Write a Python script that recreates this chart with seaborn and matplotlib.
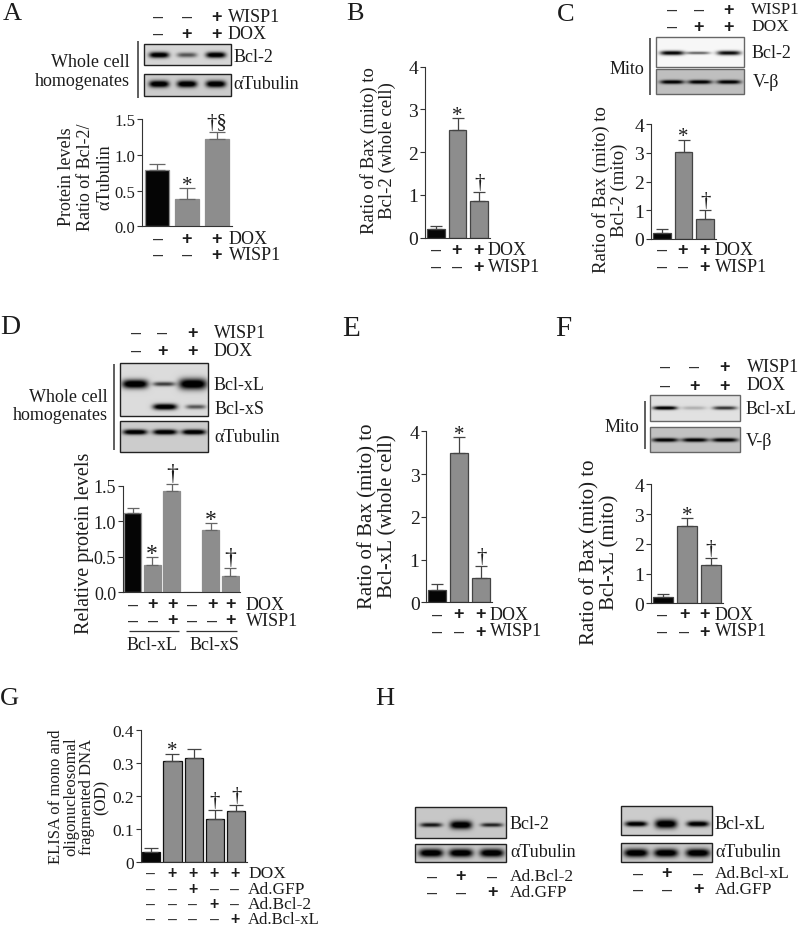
# plot.py

import numpy as np
import pandas as pd
import seaborn as sns
import matplotlib
matplotlib.use("Agg")
import matplotlib.pyplot as plt
from matplotlib.patches import Rectangle


# =========================
# DATOS
# =========================
A_VALORES = [0.79, 0.38, 1.22]
A_ERRORES = [0.87, 0.53, 1.32]
A_MARCAS = ["", "*", "†§"]
A_TICKS = ["0.0", "0.5", "1.0", "1.5"]

B_VALORES = [0.20, 2.53, 0.85]
B_ERRORES = [0.28, 2.81, 1.08]
C_VALORES = [0.20, 3.02, 0.70]
C_ERRORES = [0.35, 3.46, 1.00]
E_VALORES = [0.28, 3.49, 0.58]
E_ERRORES = [0.42, 3.86, 0.85]
F_VALORES = [0.20, 2.61, 1.29]
F_ERRORES = [0.30, 2.86, 1.51]
RATIO_MARCAS = ["", "*", "†"]
RATIO_TICKS = ["0", "1", "2", "3", "4"]

D_VALORES = [1.11, 0.38, 1.43, 0.0, 0.87, 0.23]
D_ERRORES = [1.19, 0.49, 1.53, 0.0, 0.97, 0.34]
D_MARCAS = ["", "*", "†", "", "*", "†"]
D_TICKS = ["0.0", "0.5", "1.0", "1.5"]

G_VALORES = [0.03, 0.305, 0.313, 0.13, 0.155]
G_ERRORES = [0.042, 0.328, 0.342, 0.157, 0.172]
G_MARCAS = ["", "*", "", "†", "†"]
G_TICKS = ["0", "0.1", "0.2", "0.3", "0.4"]

# Intensidad de las bandas de cada blot
BANDAS_A_BCL2 = [0.95, 0.50, 0.95]
BANDAS_C_BCL2 = [0.85, 0.50, 0.80]
BANDAS_F_BCLXL = [0.95, 0.18, 0.65]
BANDAS_VBETA = [0.90, 0.90, 0.90]
BANDAS_D_BCLXL = [1.0, 0.60, 1.0]
BANDAS_D_BCLXS = [0.0, 1.0, 0.50]
BANDAS_H_BCL2 = [0.75, 1.0, 0.70]
BANDAS_H_BCLXL = [0.95, 1.0, 0.95]
BANDAS_TUBULINA = [1.0, 1.0, 1.0]

# =========================
# CONSTANTES
# =========================
W, H = 800, 929
NEGRO = "#050505"
GRIS = "#8d8d8d"
TEXTO = "#1c1c1c"
SERIF = "Liberation Serif"


# =========================
# FUNCIONES
# =========================

def panel_barras(fig, caja, valores, errores, marcas, ticks, ymax, ancho=0.8,
                 borde="#8d8d8d", fs_tick=13, fs_marca=15, color_error="#444444", cap=4.5):
    """
    Dibuja un panel de barras con seaborn. caja = (izq, arriba, der, abajo) en pixeles.
    """
    izq, arriba, der, abajo = caja
    ax = fig.add_axes([izq / W, 1 - abajo / H, (der - izq) / W, (abajo - arriba) / H])
    ax.patch.set_alpha(0)

    df = pd.DataFrame({"grupo": [str(i) for i in range(len(valores))], "valor": valores})
    colores = [NEGRO] + [GRIS] * (len(valores) - 1)
    sns.barplot(data=df, x="grupo", y="valor", hue="grupo", palette=colores, legend=False,
                width=ancho, edgecolor=borde, linewidth=0.9, saturation=1, ax=ax)

    # Solo la mitad superior de la barra de error
    sup = np.array(errores) - np.array(valores)
    visibles = [i for i, v in enumerate(valores) if v > 0]
    ax.errorbar(visibles, [valores[i] for i in visibles],
                yerr=[np.zeros(len(visibles)), sup[visibles]], fmt="none",
                ecolor=color_error, elinewidth=0.9, capsize=cap, capthick=0.9,
                clip_on=False, zorder=1)

    ax.set_xlim(-0.5, len(valores) - 0.5)
    ax.set_ylim(0, ymax)
    ax.set_yticks(np.linspace(0, ymax, len(ticks)))
    ax.set_yticklabels(ticks, fontsize=fs_tick, color=TEXTO, family=SERIF)
    ax.set_xticks([])
    ax.set_xlabel("")
    ax.set_ylabel("")
    ax.tick_params(axis="y", length=3.5, width=0.8, pad=1.5, color="#333333")
    sns.despine(ax=ax)
    for lado in ["left", "bottom"]:
        ax.spines[lado].set_linewidth(0.8)
        ax.spines[lado].set_color("#333333")

    for i, marca in enumerate(marcas):
        if marca:
            # el asterisco de la fuente queda alto, hay que bajarlo
            dy = -5 if marca == "*" else 0
            ax.annotate(marca, (i, errores[i]), xytext=(0, dy), textcoords="offset points",
                        ha="center", va="bottom", fontsize=fs_marca, family=SERIF,
                        color=TEXTO, annotation_clip=False)
    return ax


def blot(ov, caja, fondo, filas, borde="#222222"):
    """
    Pinta un western blot sintetico. Cada fila es (xs, y, intensidades, medios, sigmas).
    """
    x0, y0, x1, y1 = caja
    X, Y = np.meshgrid(np.linspace(x0, x1, (x1 - x0) * 2), np.linspace(y0, y1, (y1 - y0) * 2))
    oscuro = np.zeros_like(X)
    for xs, yb, bandas, medios, sigmas in filas:
        for xc, intensidad, medio, sigma in zip(xs, bandas, medios, sigmas):
            perfil = np.exp(-((X - xc) / medio) ** 4) * np.exp(-((Y - yb) / sigma) ** 2)
            oscuro += intensidad * 1.25 * perfil
    img = fondo * (1 - np.clip(oscuro, 0, 1))
    ov.imshow(img, cmap="gray", vmin=0, vmax=1, extent=(x0, x1, y1, y0), aspect="auto",
              interpolation="bilinear", zorder=2)
    ov.add_patch(Rectangle((x0, y0), x1 - x0, y1 - y0, fill=False, ec=borde, lw=1.0, zorder=3))


def signos(ov, xs, y, fila, etiqueta=None, x_etiqueta=None, fs=13, fs_et=13):
    """
    Fila de + y - con su etiqueta a la derecha.
    """
    for x, s in zip(xs, fila):
        if s == "+":
            ov.text(x, y, "+", ha="center", va="center", fontsize=fs, fontweight="bold",
                    family="Liberation Sans", color=TEXTO)
        else:
            ov.text(x, y, "–", ha="center", va="center", fontsize=fs,
                    family="Liberation Sans", color="#333333")
    if etiqueta:
        texto(ov, x_etiqueta, y, etiqueta, fs=fs_et)


def texto(ov, x, y, s, fs=13, ha="left", rot=0, ls=1.0):
    ov.text(x, y, s, ha=ha, va="center", fontsize=fs, family=SERIF, color=TEXTO,
            rotation=rot, linespacing=ls, rotation_mode="default")


def linea(ov, x0, y0, x1, y1, lw=1.1, color="#333333"):
    ov.plot([x0, x1], [y0, y1], color=color, lw=lw, solid_capstyle="butt", zorder=3)


def main():
    sns.set_theme(style="ticks")
    plt.rcParams["font.family"] = [SERIF, "DejaVu Serif"]

    fig = plt.figure(figsize=(W / 100, H / 100), dpi=100, facecolor="white")

    # Capa en pixeles para textos y blots
    ov = fig.add_axes([0, 0, 1, 1])
    ov.axis("off")

    # ----- Panel A -----
    panel_barras(fig, (142, 120, 232, 227.3), A_VALORES, A_ERRORES, A_MARCAS, A_TICKS, 1.5,
                 ancho=0.8, cap=6, color_error="#666666", fs_tick=12)
    signos(ov, [158, 187, 216], 17, "--+", "WISP1", 228)
    signos(ov, [158, 187, 216], 34, "-++", "DOX", 228)
    xs_a = [159, 187, 216]
    blot(ov, (144, 45, 231, 66), 0.84, [(xs_a, 56, BANDAS_A_BCL2, [10] * 3, [3.0, 2.5, 3.0])])
    blot(ov, (144, 75, 231, 97), 0.80, [(xs_a, 85, BANDAS_TUBULINA, [10] * 3, [3.5] * 3)])
    linea(ov, 137.5, 42, 137.5, 99)
    texto(ov, 130, 62, "Whole cell", ha="right")
    texto(ov, 130, 81, "homogenates", ha="right")
    texto(ov, 234, 57, "Bcl-2")
    texto(ov, 233, 84, "αTubulin")
    signos(ov, [158, 187, 216], 239, "-++", "DOX", 229)
    signos(ov, [158, 187, 216], 255, "--+", "WISP1", 229)
    texto(ov, 86, 177, "Protein levels\nRatio of Bcl-2/\nαTubulin", fs=13, ha="center", rot=90, ls=1.17)

    # ----- Panel B -----
    panel_barras(fig, (425, 67.7, 490, 238.7), B_VALORES, B_ERRORES, RATIO_MARCAS, RATIO_TICKS, 4,
                 ancho=0.83, borde="#444444", fs_tick=14)
    signos(ov, [436, 457, 479], 250, "-++", "DOX", 488)
    signos(ov, [436, 457, 479], 267, "--+", "WISP1", 488)
    texto(ov, 378, 151, "Ratio of Bax (mito) to\nBcl-2 (whole cell)", fs=13.5, ha="center", rot=90, ls=1.05)

    # ----- Panel C -----
    panel_barras(fig, (651, 125, 716, 240), C_VALORES, C_ERRORES, RATIO_MARCAS, RATIO_TICKS, 4,
                 ancho=0.83, borde="#444444", fs_tick=14)
    signos(ov, [672, 699, 728], 10, "--+", "WISP1", 751, fs_et=12.2)
    signos(ov, [672, 699, 728], 27, "-++", "DOX", 751, fs_et=12.5)
    blot(ov, (656, 38, 744, 68), 0.97, [([672, 698, 729], 54, BANDAS_C_BCL2, [12] * 3, [2.2, 1.4, 2.2])],
         borde="#666666")
    blot(ov, (656, 70, 744, 95), 0.75, [([672, 700, 729], 83, BANDAS_VBETA, [12] * 3, [2.0] * 3)],
         borde="#666666")
    linea(ov, 650, 39, 650, 96)
    texto(ov, 644, 69, "Mito", ha="right")
    texto(ov, 752, 53, "Bcl-2")
    texto(ov, 753, 82, "V-β")
    signos(ov, [662, 683, 705], 250, "-++", "DOX", 715)
    signos(ov, [662, 683, 705], 267, "--+", "WISP1", 715)
    texto(ov, 610, 190, "Ratio of Bax (mito) to\nBcl-2 (mito)", fs=13.5, ha="center", rot=90, ls=1.05)

    # ----- Panel D -----
    panel_barras(fig, (123, 486.7, 240, 593.3), D_VALORES, D_ERRORES, D_MARCAS, D_TICKS, 1.5,
                 ancho=0.85, fs_marca=17, color_error="#666666")
    signos(ov, [136, 162, 192], 333, "--+", "WISP1", 214)
    signos(ov, [136, 162, 192], 351, "-++", "DOX", 214)
    blot(ov, (120, 364, 208, 417), 0.86, [
        ([135, 164, 193], 385, BANDAS_D_BCLXL, [13, 11, 14], [4.5, 2.2, 5.5]),
        ([135, 165, 196], 408, BANDAS_D_BCLXS, [10, 12, 10], [2.0, 3.0, 2.2]),
    ])
    blot(ov, (120, 422, 208, 453), 0.80, [([135, 165, 194], 433, BANDAS_TUBULINA, [12, 12, 12], [2.6] * 3)])
    linea(ov, 114, 365, 114, 451)
    texto(ov, 108, 397, "Whole cell", ha="right")
    texto(ov, 108, 416, "homogenates", ha="right")
    texto(ov, 214, 385, "Bcl-xL")
    texto(ov, 215, 409, "Bcl-xS")
    texto(ov, 214, 437, "αTubulin")
    xs_d = [133, 153, 173, 192, 212, 231]
    signos(ov, xs_d, 605, "-++-++", "DOX", 246)
    signos(ov, xs_d, 621, "--+--+", "WISP1", 246)
    linea(ov, 129, 632, 179, 632, lw=0.9)
    linea(ov, 186, 632, 237, 632, lw=0.9)
    texto(ov, 152, 645, "Bcl-xL", ha="center")
    texto(ov, 215, 645, "Bcl-xS", ha="center")
    texto(ov, 84, 543, "Relative protein levels", fs=14.5, ha="center", rot=90)

    # ----- Panel E -----
    panel_barras(fig, (426.5, 432.3, 492, 603.3), E_VALORES, E_ERRORES, RATIO_MARCAS, RATIO_TICKS, 4,
                 ancho=0.83, borde="#444444", fs_tick=14)
    signos(ov, [437, 459, 481], 615, "-++", "DOX", 490)
    signos(ov, [437, 459, 481], 632, "--+", "WISP1", 490)
    texto(ov, 378, 516, "Ratio of Bax (mito) to\nBcl-xL (whole cell)", fs=15, ha="center", rot=90, ls=1.05)

    # ----- Panel F -----
    panel_barras(fig, (651, 485.3, 723, 604.3), F_VALORES, F_ERRORES, RATIO_MARCAS, RATIO_TICKS, 4,
                 ancho=0.83, borde="#444444", fs_tick=14)
    signos(ov, [665, 694, 724], 367, "--+", "WISP1", 747)
    signos(ov, [665, 694, 724], 386, "-++", "DOX", 747)
    blot(ov, (650, 396, 740, 422), 0.88, [([665, 694, 725], 409, BANDAS_F_BCLXL, [12] * 3, [1.8] * 3)],
         borde="#666666")
    blot(ov, (650, 428, 740, 453), 0.76, [([665, 695, 725], 441, BANDAS_VBETA, [13] * 3, [2.0] * 3)],
         borde="#666666")
    linea(ov, 645, 402, 645, 450)
    texto(ov, 639, 427, "Mito", ha="right")
    texto(ov, 746, 410, "Bcl-xL")
    texto(ov, 746, 441, "V-β")
    signos(ov, [662, 684, 705], 615, "-++", "DOX", 715)
    signos(ov, [662, 684, 705], 632, "--+", "WISP1", 715)
    texto(ov, 600, 552, "Ratio of Bax (mito) to\nBcl-xL (mito)", fs=15, ha="center", rot=90, ls=1.05)

    # ----- Panel G -----
    panel_barras(fig, (140.5, 730.7, 247, 863), G_VALORES, G_ERRORES, G_MARCAS, G_TICKS, 0.4,
                 ancho=0.85, borde="#111111", fs_tick=12.5, fs_marca=15, cap=5)
    xs_g = [151, 172, 193, 214, 235]
    signos(ov, xs_g, 874, "-++++", "DOX", 248, fs=11.5, fs_et=12.5)
    signos(ov, xs_g, 890, "--+--", "Ad.GFP", 248, fs=11.5, fs_et=12.5)
    signos(ov, xs_g, 905, "---+-", "Ad.Bcl-2", 248, fs=11.5, fs_et=12.5)
    signos(ov, xs_g, 920, "----+", "Ad.Bcl-xL", 248, fs=11.5, fs_et=12)
    texto(ov, 79, 797, "ELISA of mono and\noligonucleosomal\nfragmented DNA\n(OD)", fs=12,
          ha="center", rot=90, ls=0.92)

    # ----- Panel H -----
    xs_h1 = [432, 461, 492]
    blot(ov, (415, 808, 506, 839), 0.78, [([431, 461, 492], 826, BANDAS_H_BCL2, [11] * 3, [2.2, 4.2, 2.0])])
    blot(ov, (415, 845, 506, 863), 0.78, [([431, 461, 492], 854, BANDAS_TUBULINA, [12] * 3, [4.2] * 3)])
    texto(ov, 510, 825, "Bcl-2")
    texto(ov, 510, 853, "αTubulin")
    signos(ov, xs_h1, 877, "-+-", "Ad.Bcl-2", 510, fs_et=12.5)
    signos(ov, xs_h1, 893, "--+", "Ad.GFP", 510, fs_et=12.5)
    xs_h2 = [638, 667, 698]
    blot(ov, (621, 807, 712, 836), 0.80, [([636, 666, 698], 825, BANDAS_H_BCLXL, [11] * 3, [2.6, 4.5, 2.8])])
    blot(ov, (621, 844, 712, 863), 0.78, [([636, 666, 698], 854, BANDAS_TUBULINA, [12] * 3, [4.2] * 3)])
    texto(ov, 715, 825, "Bcl-xL")
    texto(ov, 715, 853, "αTubulin")
    signos(ov, xs_h2, 874, "-+-", "Ad.Bcl-xL", 715, fs_et=12.5)
    signos(ov, xs_h2, 890, "--+", "Ad.GFP", 715, fs_et=12.5)

    # ----- Letras de panel -----
    for letra, x, y, fs in [("A", 12, 14, 19), ("B", 355, 14, 19), ("C", 566, 15, 19), ("D", 10, 327, 20),
                            ("E", 351, 329, 21), ("F", 563, 329, 21), ("G", 9, 699, 19), ("H", 385, 699, 19)]:
        texto(ov, x, y, letra, fs=fs, ha="center")

    ov.set_xlim(0, W)
    ov.set_ylim(H, 0)

    fig.savefig("out.png", dpi=100)
    plt.close(fig)


if __name__ == "__main__":
    main()
